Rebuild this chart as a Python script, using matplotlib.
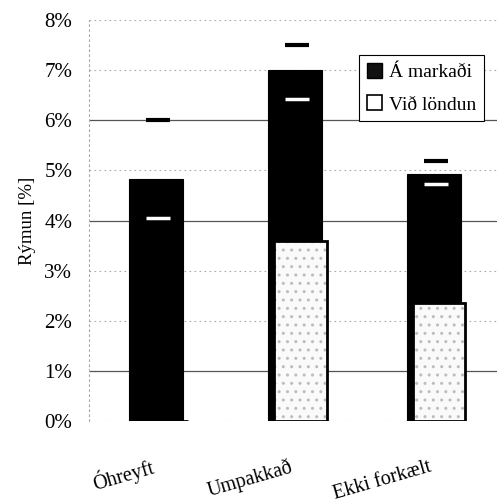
import matplotlib
matplotlib.use("Agg")
import matplotlib.pyplot as plt
import matplotlib.transforms as mtransforms
from matplotlib.patches import Patch

categories = ["Óhreyft", "Umpakkað", "Ekki forkælt"]
a_markadi = [4.82, 7.00, 4.92]      # black bars
vid_londun = [0.0, 3.60, 2.35]      # stippled white bars
upper_marks = [6.00, 7.50, 5.18]    # black dashes above bars
inner_marks = [4.04, 6.42, 4.73]    # white dashes inside bars
yticks = [0, 1, 2, 3, 4, 5, 6, 7, 8]
ytick_labels = ["0%", "1%", "2%", "3%", "4%", "5%", "6%", "7%", "8%"]
legend_labels = ["Á markaði", "Við löndun"]

plt.rcParams['font.family'] = ['Liberation Serif', 'DejaVu Serif']

fig = plt.figure(figsize=(4.97, 5.03), dpi=100)
ax = fig.add_axes([89/497, 1-421/503, 408/497, 401/503])

x = list(range(len(categories)))
bw = 0.39
off = 0.04

# gridlines
for yv in yticks:
    solid = yv in (1, 4, 6)
    ax.axhline(yv, color='#555555' if solid else '#aaaaaa',
               lw=0.9 if solid else 0.8,
               ls='-' if solid else (0, (1.5, 3)), zorder=0)

ax.bar(x, a_markadi, width=bw, color='black', edgecolor='black', lw=0.8, zorder=2)
xw = [i + off for i in x]
ax.bar(xw, vid_londun, width=bw*0.97, color='#fafafa', edgecolor='#bdbdbd',
       lw=0, hatch='..', zorder=3)
ax.bar(xw, vid_londun, width=bw*0.97, fill=False, edgecolor='black', lw=2.0, zorder=4)

xm = [i + 0.015 for i in x]
ax.plot(xm, upper_marks, ls='none', marker='_', markersize=17, mew=3, color='black', zorder=5)
ax.plot(xm, inner_marks, ls='none', marker='_', markersize=17, mew=2.5, color='white', zorder=5)

ax.set_xlim(-0.484, -0.484 + 408/138.75)
ax.set_ylim(0, 8)
ax.set_yticks(yticks)
ax.set_yticklabels(ytick_labels, fontsize=15)
ax.tick_params(axis='y', length=0, pad=12)
ax.set_ylabel("Rýmun [%]", fontsize=13.5, labelpad=6)

ax.set_xticks(x)
ax.set_xticklabels(categories, fontsize=14.5, rotation=16, ha='right',
                   rotation_mode='anchor', va='center')
ax.tick_params(axis='x', length=0, pad=33)
for lab in ax.get_xticklabels():
    lab.set_transform(lab.get_transform() + mtransforms.ScaledTranslation(-3/100, 0, fig.dpi_scale_trans))

for s in ['top', 'right', 'bottom']:
    ax.spines[s].set_visible(False)
ax.spines['left'].set_color('#aaaaaa')
ax.spines['left'].set_linestyle((0, (1.5, 3)))
ax.spines['left'].set_linewidth(0.8)

handles = [Patch(facecolor='#111111', edgecolor='black'),
           Patch(facecolor='white', edgecolor='black', lw=1.2)]
leg = ax.legend(handles, legend_labels, loc='upper right',
                bbox_to_anchor=(0.968, 0.913), borderaxespad=0,
                fontsize=14, frameon=True, fancybox=False,
                edgecolor='black', framealpha=1,
                handlelength=0.8, handleheight=0.8, handletextpad=0.35,
                labelspacing=0.75, borderpad=0.4)
leg.get_frame().set_linewidth(0.8)

fig.savefig("out.png", dpi=100)
